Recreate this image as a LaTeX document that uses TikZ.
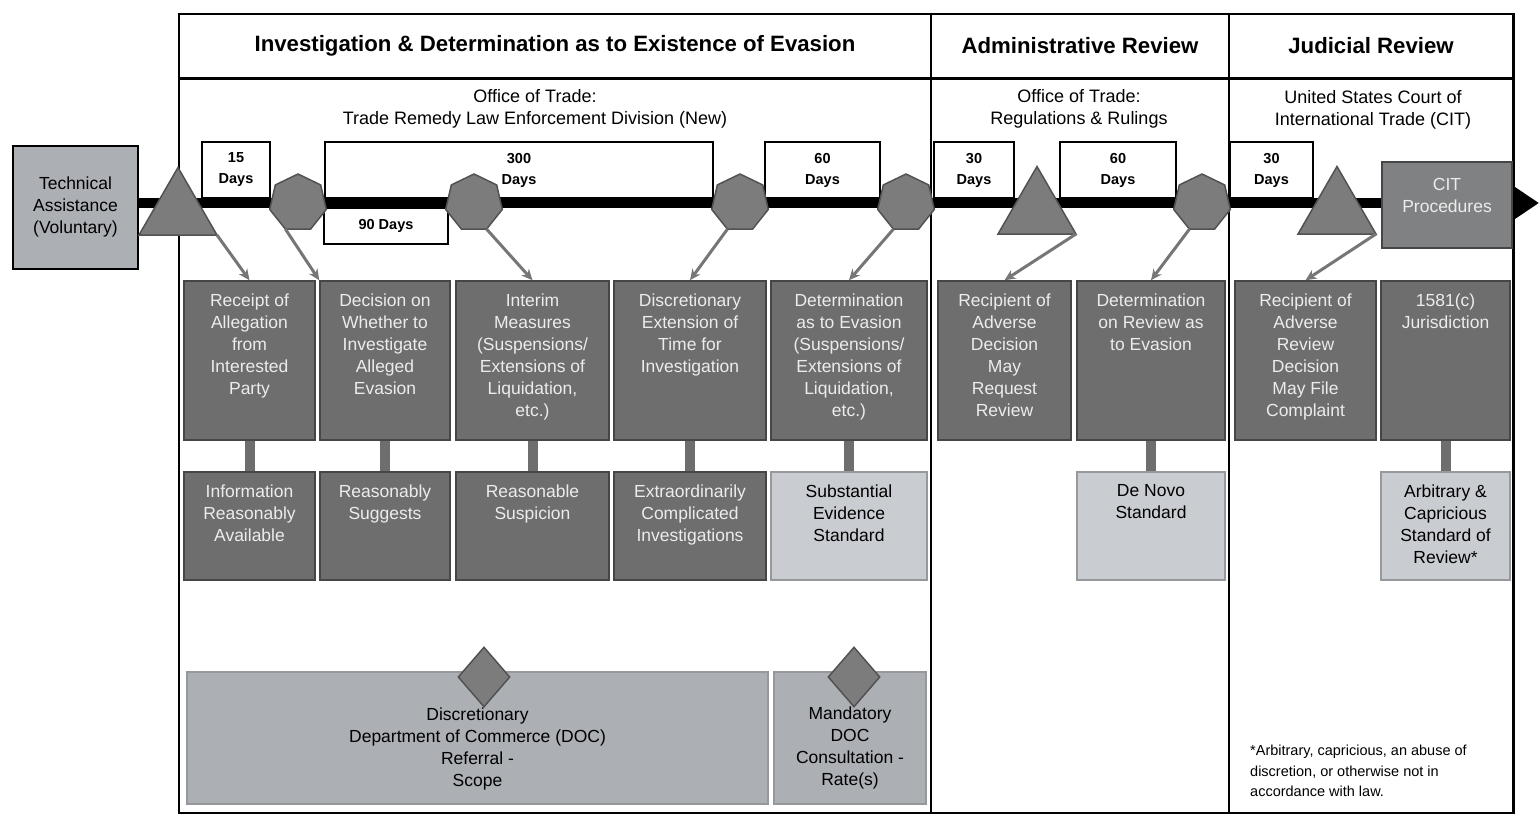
\documentclass[tikz,border=0pt]{standalone}
\usepackage{fontspec}
\setmainfont{Liberation Sans}
\usetikzlibrary{positioning,shapes.geometric,arrows.meta}

\definecolor{boxdark}{RGB}{110,110,110}
\definecolor{boxedge}{RGB}{70,70,70}
\definecolor{boxpale}{RGB}{201,204,208}
\definecolor{paleedge}{RGB}{150,152,156}
\definecolor{boxmid}{RGB}{172,175,180}
\definecolor{citgray}{RGB}{128,129,130}
\definecolor{shapegray}{RGB}{124,124,124}
\definecolor{shapeedge}{RGB}{82,82,82}
\definecolor{arrowgray}{RGB}{118,118,118}
\definecolor{txtlight}{RGB}{236,236,236}
\newcommand{\tlfont}{\fontsize{17.5}{22}\selectfont}

\begin{document}
\begin{tikzpicture}[x=1pt, y=-1pt, >={Stealth[length=11pt,width=10pt]},
    darkbox/.style = {draw=boxedge, fill=boxdark, line width=1.5, inner sep=0},
    palebox/.style = {draw=paleedge, fill=boxpale, line width=1.2, inner sep=0},
    midbox/.style = {draw=paleedge, fill=boxmid, line width=1.2, inner sep=0},
    daybox/.style = {draw=black, fill=white, line width=2.5, inner sep=0, align=center, font=\bfseries\fontsize{14.5}{21}\selectfont},
    event/.style = {regular polygon, draw=shapeedge, fill=shapegray, line width=1.5, inner sep=0, outer sep=0},
    gem/.style = {diamond, draw=shapeedge, fill=shapegray, line width=1.5, inner sep=0, minimum width=52, minimum height=60},
    head/.style = {font=\bfseries\fontsize{22.2}{26}\selectfont},
    office/.style = {align=center, font=\fontsize{18}{21.5}\selectfont},
    darktxt/.style = {text=txtlight, font=\tlfont, align=center, inner sep=0},
    paletxt/.style = {text=black, font=\tlfont, align=center, inner sep=0},
    link/.style = {draw=boxdark, line width=10},
    pointer/.style = {draw=arrowgray, line width=3, ->}]

    \useasboundingbox (0,0) rectangle (1539,817);

    \draw[line width=2.5] (179,14) rectangle (1513.5,813);
    \draw[line width=2.5] (179,78.5) -- (1513.5,78.5);
    \draw[line width=2.5] (931,14) -- (931,813);
    \draw[line width=2.5] (1229,14) -- (1229,813);

    \node[head] (inv) at (555,46) {Investigation \& Determination as to Existence of Evasion};
    \node[head] (adm) at (1080,46) {Administrative Review};
    \node[head] (jud) at (1371,46) {Judicial Review};
    \node[office] (ot1) at (535,109) {Office of Trade:\\Trade Remedy Law Enforcement Division (New)};
    \node[office] (ot2) at (1079,109) {Office of Trade:\\Regulations \& Rulings};
    \node[office] (cit0) at (1373,110) {United States Court of\\International Trade (CIT)};

    \node[midbox, draw=black, line width=2, minimum width=125, minimum height=123, align=center, font=\tlfont] (tech) at (75.5,207) {Technical\\Assistance\\(Voluntary)};

    \coordinate (tip) at (1539,203);
    \draw[line width=10, -{Triangle[length=27pt,width=34pt]}] (tech.east |- tip) -- (tip);

    \node[daybox, minimum width=68, minimum height=56] (d15) at (236,170) {15\\Days};
    \node[daybox, minimum width=388, minimum height=56] (d300) at (519,170) {300\\Days};
    \node[daybox, minimum width=124, minimum height=36] (d90) at (386,226) {90 Days};
    \node[daybox, minimum width=115, minimum height=56] (d60) at (822.5,170) {60\\Days};
    \node[daybox, minimum width=80, minimum height=56] (a30) at (974,170) {30\\Days};
    \node[daybox, minimum width=116, minimum height=56] (a60) at (1118,170) {60\\Days};
    \node[daybox, minimum width=83, minimum height=56] (j30) at (1271.5,170) {30\\Days};

    \node[darkbox, fill=citgray, minimum width=130, minimum height=86] (cit) at (1447,205) {};
    \node[darktxt, yshift=10pt] (citt) at (cit.center) {CIT\\Procedures};

    \node[event, regular polygon sides=3, minimum size=90, anchor=south] (t1) at (178,235) {};
    \node[event, regular polygon sides=3, minimum size=90, anchor=south] (t2) at (1037,234) {};
    \node[event, regular polygon sides=3, minimum size=90, anchor=south] (t3) at (1337,234) {};
    \node[event, regular polygon sides=7, minimum size=58] (h1) at (298,203) {};
    \node[event, regular polygon sides=7, minimum size=58] (h2) at (474,203) {};
    \node[event, regular polygon sides=7, minimum size=58] (h3) at (740,203) {};
    \node[event, regular polygon sides=7, minimum size=58] (h4) at (906,203) {};
    \node[event, regular polygon sides=7, minimum size=58] (h5) at (1202,203) {};

    \node[darkbox, minimum width=131, minimum height=159] (b1) at (249.5,360.5) {};
    \node[darkbox, minimum width=130, minimum height=159] (b2) at (385,360.5) {};
    \node[darkbox, minimum width=153, minimum height=159] (b3) at (532.5,360.5) {};
    \node[darkbox, minimum width=152, minimum height=159] (b4) at (690,360.5) {};
    \node[darkbox, minimum width=156, minimum height=159] (b5) at (849,360.5) {};
    \node[darkbox, minimum width=133, minimum height=159] (b6) at (1004.5,360.5) {};
    \node[darkbox, minimum width=148, minimum height=159] (b7) at (1151,360.5) {};
    \node[darkbox, minimum width=141, minimum height=159] (b8) at (1305.5,360.5) {};
    \node[darkbox, minimum width=129, minimum height=159] (b9) at (1445.5,360.5) {};

    \node[darkbox, minimum width=131, minimum height=108] (r1) at (249.5,526) {};
    \node[darkbox, minimum width=130, minimum height=108] (r2) at (385,526) {};
    \node[darkbox, minimum width=153, minimum height=108] (r3) at (532.5,526) {};
    \node[darkbox, minimum width=152, minimum height=108] (r4) at (690,526) {};
    \node[palebox, minimum width=156, minimum height=108] (r5) at (849,526) {};
    \node[palebox, minimum width=148, minimum height=108] (r7) at (1151,526) {};
    \node[palebox, minimum width=129, minimum height=108] (r9) at (1445.5,526) {};

    \node[darktxt, below=13pt of b1.north] (b1t) {Receipt of\\Allegation\\from\\Interested\\Party};
    \node[darktxt, below=13pt of b2.north] (b2t) {Decision on\\Whether to\\Investigate\\Alleged\\Evasion};
    \node[darktxt, below=13pt of b3.north] (b3t) {Interim\\Measures\\(Suspensions/\\Extensions of\\Liquidation,\\etc.)};
    \node[darktxt, below=13pt of b4.north] (b4t) {Discretionary\\Extension of\\Time for\\Investigation};
    \node[darktxt, below=13pt of b5.north] (b5t) {Determination\\as to Evasion\\(Suspensions/\\Extensions of\\Liquidation,\\etc.)};
    \node[darktxt, below=13pt of b6.north] (b6t) {Recipient of\\Adverse\\Decision\\May\\Request\\Review};
    \node[darktxt, below=13pt of b7.north] (b7t) {Determination\\on Review as\\to Evasion};
    \node[darktxt, below=13pt of b8.north] (b8t) {Recipient of\\Adverse\\Review\\Decision\\May File\\Complaint};
    \node[darktxt, below=13pt of b9.north] (b9t) {1581(c)\\Jurisdiction};

    \node[darktxt, below=13pt of r1.north] (r1t) {Information\\Reasonably\\Available};
    \node[darktxt, below=13pt of r2.north] (r2t) {Reasonably\\Suggests};
    \node[darktxt, below=13pt of r3.north] (r3t) {Reasonable\\Suspicion};
    \node[darktxt, below=13pt of r4.north] (r4t) {Extraordinarily\\Complicated\\Investigations};
    \node[paletxt, below=13pt of r5.north] (r5t) {Substantial\\Evidence\\Standard};
    \node[paletxt, below=13pt of r7.north] (r7t) {De Novo\\Standard};
    \node[paletxt, below=13pt of r9.north] (r9t) {Arbitrary \&\\Capricious\\Standard of\\Review*};

    \draw[link] (b1) -- (r1);
    \draw[link] (b2) -- (r2);
    \draw[link] (b3) -- (r3);
    \draw[link] (b4) -- (r4);
    \draw[link] (b5) -- (r5);
    \draw[link] (b7) -- (r7);
    \draw[link] (b9) -- (r9);

    \draw[pointer] (t1.corner 3) -- (b1.north);
    \draw[pointer] (h1.corner 4) -- (b2.north west);
    \draw[pointer] (h2.corner 5) -- (b3.north);
    \draw[pointer] (h3.corner 4) -- (b4.north);
    \draw[pointer] (h4.corner 4) -- (b5.north);
    \draw[pointer] (t2.corner 3) -- (b6.north);
    \draw[pointer] (h5.corner 4) -- (b7.north);
    \draw[pointer] (t3.corner 3) -- (b8.north);

    \node[midbox, minimum width=581, minimum height=132] (doc1) at (477.5,738) {};
    \node[midbox, minimum width=152, minimum height=132] (doc2) at (850,738) {};
    \node[paletxt, yshift=-10.5pt] (doc1t) at (doc1.center) {Discretionary\\Department of Commerce (DOC)\\Referral -\\Scope};
    \node[paletxt, yshift=-10pt] (doc2t) at (doc2.center) {Mandatory\\DOC\\Consultation -\\Rate(s)};
    \node[gem] (g1) at (484,677) {};
    \node[gem] (g2) at (854,677) {};

    \node[anchor=north west, align=left, inner sep=0, font=\fontsize{14.5}{20.5}\selectfont] (note) at (1250,745) {*Arbitrary, capricious, an abuse of\\discretion, or otherwise not in\\accordance with law.};

\end{tikzpicture}
\end{document}
